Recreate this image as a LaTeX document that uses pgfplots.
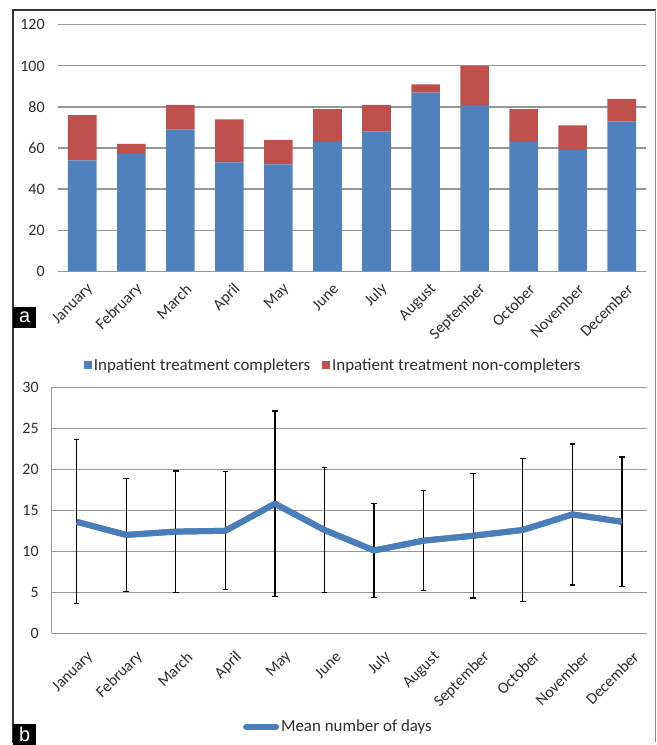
\documentclass[border=0pt]{standalone}
\usepackage{pgfplots}
\pgfplotsset{compat=1.18}
\usepackage{fontspec}
\setmainfont{Carlito}
\newfontfamily\labelfont{Liberation Sans}

\definecolor{barblue}{RGB}{79,129,189}
\definecolor{barred}{RGB}{192,80,77}
\definecolor{lineblue}{RGB}{74,126,187}
\definecolor{gridgray}{RGB}{150,150,150}
\definecolor{textgray}{RGB}{45,45,45}

\pgfplotstableread{
m  compl  noncompl
0  54  22
1  57  5
2  69  12
3  53  21
4  52  12
5  63  16
6  68  13
7  87  4
8  81  19
9  63  16
10 59  12
11 73  11
}\admissions

\pgfplotstableread{
m  mean  sd
0  13.6  10.0
1  12.0  6.9
2  12.4  7.4
3  12.5  7.2
4  15.8  11.3
5  12.6  7.6
6  10.1  5.7
7  11.3  6.1
8  11.9  7.6
9  12.6  8.7
10 14.5  8.6
11 13.6  7.9
}\stay

\pgfplotsset{
  monthaxis/.style={
    scale only axis,
    xmin=-0.5, xmax=11.5,
    xtick={0,...,11},
    xticklabels={January,February,March,April,May,June,July,August,September,October,November,December},
    major tick length=0pt,
    ymajorgrids,
    major grid style={gridgray, line width=1.1pt},
    /pgf/number format/assume math mode=true,
    tick label style={font=\fontsize{16}{18}\selectfont, text=textgray},
    yticklabel style={inner sep=0pt, xshift=-13pt},
    xticklabel style={rotate=45, anchor=east, inner sep=0pt, xshift=-5pt},
    legend style={draw=none, fill=none, font=\fontsize{17}{19}\selectfont, text=textgray,
      /tikz/every even column/.append style={column sep=10pt}},
  },
}

\begin{document}
\begin{tikzpicture}[x=1pt, y=1pt]
\path (0,0) rectangle (659,745);

% outer frame
\draw[line width=1.4pt, black!80, line cap=rect] (13,0) -- (13,735) -- (658,735);
\draw[line width=1.4pt, black!45] (658,735) -- (658,0);

% (a) monthly admissions, stacked
\begin{axis}[monthaxis,
  at={(58pt,472.7pt)}, anchor=south west,
  width=591pt, height=247.3pt,
  ymin=0, ymax=120, ytick={0,20,...,120},
  axis x line*=bottom, axis y line*=left,
  x axis line style={gridgray, line width=1.1pt, -},
  y axis line style={draw=none},
  xticklabel style={yshift=-17pt},
  ybar stacked, bar width=28.7pt,
  legend columns=2,
  legend style={at={(0.468,-0.383)}, anchor=center},
  legend image code/.code={\fill[#1] (0pt,-4pt) rectangle (8pt,4pt);},
]
\addplot[fill=barblue, draw=none] table[x=m, y=compl] {\admissions};
\addlegendentry{Inpatient treatment completers}
\addplot[fill=barred, draw=none] table[x=m, y=noncompl] {\admissions};
\addlegendentry{Inpatient treatment non-completers}
\end{axis}

% (b) mean length of stay with SD
\begin{axis}[monthaxis,
  at={(52pt,109pt)}, anchor=south west,
  width=597.5pt, height=247pt,
  ymin=0, ymax=30, ytick={0,5,...,30},
  axis x line*=bottom, axis y line*=left,
  axis line style={gridgray, line width=1.1pt, -},
  xticklabel style={yshift=-25pt},
  legend style={at={(0.482,-0.38)}, anchor=center},
  legend image code/.code={\draw[#1, line width=6pt, line cap=round] (0pt,0pt) -- (30pt,0pt);},
]
% mean line with its SD bars
\addplot[lineblue, line width=6pt, line join=round, forget plot,
  error bars/.cd, y dir=both, y explicit, error mark=|,
  error bar style={black, line width=1.3pt},
  error mark options={black, line width=1.3pt, mark size=2.8pt}]
  table[x=m, y=mean, y error=sd] {\stay};
% the mean line again, so that it lies on top of the bars
\addplot[lineblue, line width=6pt, line join=round]
  table[x=m, y=mean] {\stay};
\addlegendentry{Mean number of days}
\end{axis}

% panel letters
\node[fill=black, text=white, anchor=north west, minimum width=23pt, minimum height=21pt, inner sep=0pt,
  font=\labelfont\fontsize{20}{20}\selectfont] at (13,745-308) {a};
\node[fill=black, text=white, anchor=north west, minimum width=23pt, minimum height=21pt, inner sep=0pt,
  font=\labelfont\fontsize{20}{20}\selectfont] at (13,745-727) {b};
\end{tikzpicture}
\end{document}
